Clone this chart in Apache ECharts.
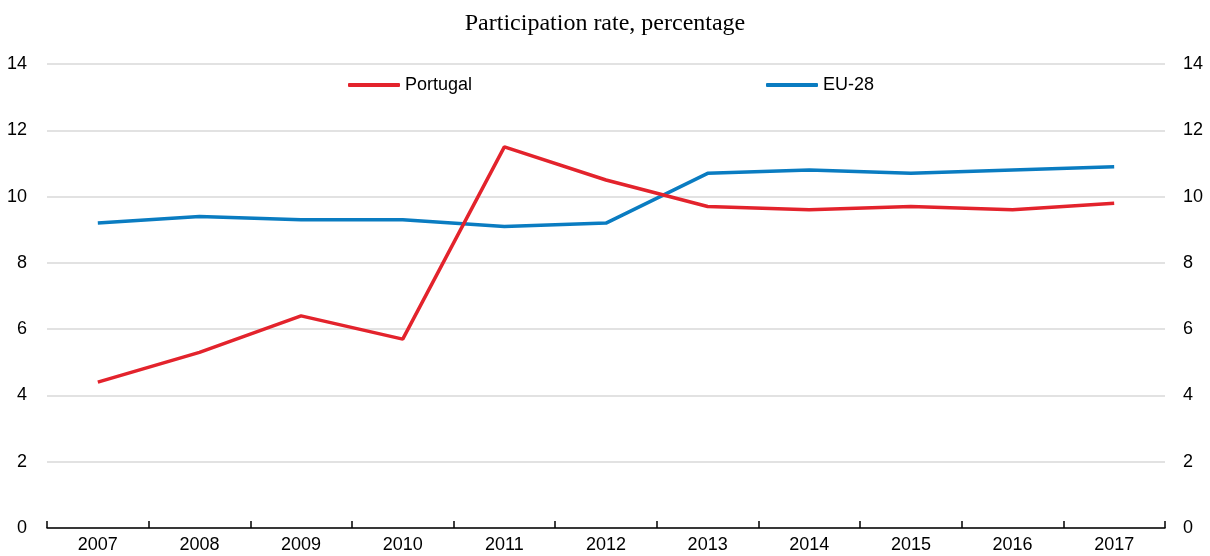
<!DOCTYPE html>
<html>
<head>
<meta charset="utf-8">
<script src="https://cdn.jsdelivr.net/npm/echarts@6/dist/echarts.min.js"></script>
<style>html,body{margin:0;padding:0;background:#fff}#c{width:1210px;height:556px}</style>
</head>
<body>
<div id="c"></div>
<script>
const years = ['2007','2008','2009','2010','2011','2012','2013','2014','2015','2016','2017'];
const portugal = [4.4, 5.3, 6.4, 5.7, 11.5, 10.5, 9.7, 9.6, 9.7, 9.6, 9.8];
const eu28 = [9.2, 9.4, 9.3, 9.3, 9.1, 9.2, 10.7, 10.8, 10.7, 10.8, 10.9];
const yTicks = [0, 2, 4, 6, 8, 10, 12, 14];
const titleText = 'Participation rate, percentage';

const RED = '#e3232c', BLUE = '#0a7cc1';
const FONT = '"Liberation Sans Narrow", "Liberation Sans", Arial, sans-serif';
const FS = 18;
const chart = echarts.init(document.getElementById('c'), null, {renderer: 'canvas'});
const yMin = yTicks[0], yMax = yTicks[yTicks.length - 1], yStep = yTicks[1] - yTicks[0];
const yAxisCommon = {
  type: 'value', min: yMin, max: yMax, interval: yStep,
  axisLine: {show: false}, axisTick: {show: false},
  axisLabel: {color: '#000', fontFamily: FONT, fontSize: FS}
};
chart.setOption({
  animation: false,
  backgroundColor: '#fff',
  title: {
    text: titleText, left: 'center', top: 7,
    textStyle: {fontFamily: '"Liberation Serif", "Times New Roman", serif', fontWeight: 'normal', fontSize: 24, color: '#000'}
  },
  legend: [
    {data: ['Portugal'], left: 348, top: 76, padding: 0, icon: 'roundRect', itemWidth: 52, itemHeight: 4, itemGap: 0,
     textStyle: {fontFamily: FONT, fontSize: FS, color: '#000'}},
    {data: ['EU-28'], left: 766, top: 76, padding: 0, icon: 'roundRect', itemWidth: 52, itemHeight: 4, itemGap: 0,
     textStyle: {fontFamily: FONT, fontSize: FS, color: '#000'}}
  ],
  grid: {left: 47, right: 45, top: 64, bottom: 28, containLabel: false},
  xAxis: {
    type: 'category', data: years, boundaryGap: true,
    axisLine: {lineStyle: {color: '#000', width: 1.5}},
    axisTick: {show: true, inside: true, length: 7, interval: 0, lineStyle: {color: '#000', width: 1.5}},
    axisLabel: {color: '#000', fontFamily: FONT, fontSize: FS, margin: 8}
  },
  yAxis: [
    Object.assign({}, yAxisCommon, {position: 'left', splitLine: {lineStyle: {color: '#d9d9d9', width: 1.5}},
      axisLabel: Object.assign({}, yAxisCommon.axisLabel, {margin: 20})}),
    Object.assign({}, yAxisCommon, {position: 'right', splitLine: {show: false},
      axisLabel: Object.assign({}, yAxisCommon.axisLabel, {margin: 18})})
  ],
  series: [
    {name: 'Portugal', type: 'line', data: portugal, yAxisIndex: 0, symbol: 'none',
     lineStyle: {color: RED, width: 3.5}, itemStyle: {color: RED}, z: 3},
    {name: 'EU-28', type: 'line', data: eu28, yAxisIndex: 0, symbol: 'none',
     lineStyle: {color: BLUE, width: 3.5}, itemStyle: {color: BLUE}, z: 2}
  ]
});
</script>
</body>
</html>
